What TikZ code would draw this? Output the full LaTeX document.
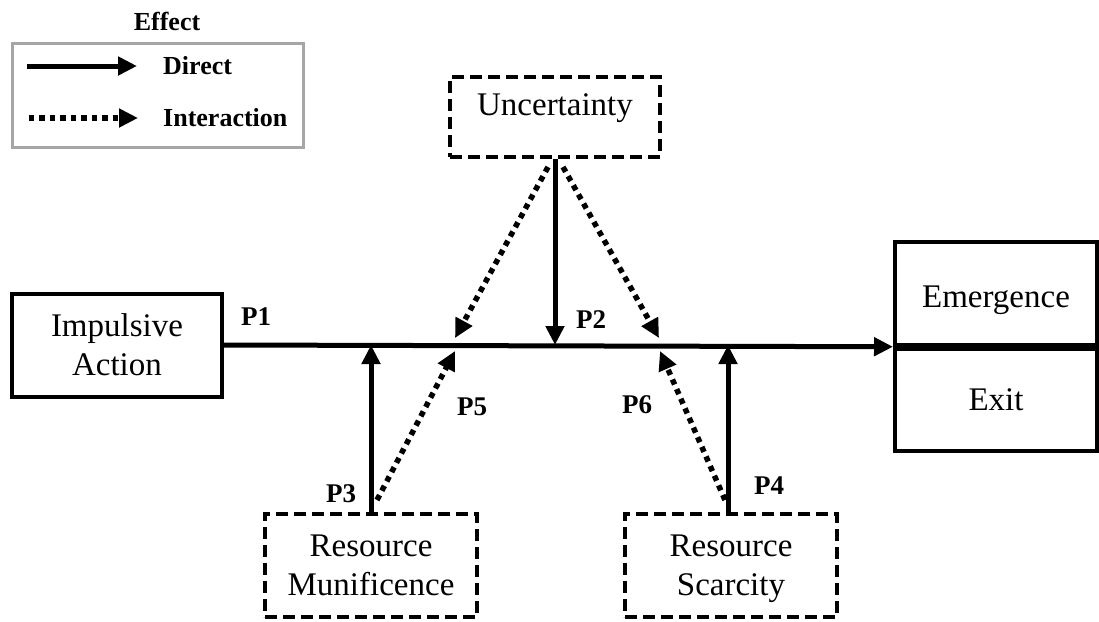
\documentclass[tikz,border=0pt]{standalone}
\usepackage{fontspec}
\setmainfont{Liberation Serif}
\usetikzlibrary{
  arrows.meta,
  positioning,
}
\tikzset{
  >={Triangle[length=19pt,width=18pt]},
  factor/.style={draw, line width=4pt, minimum width=210pt, minimum height=103pt,
    inner sep=0pt, align=center, font=\fontsize{33}{39}\selectfont},
  moderator/.style={factor, line width=4pt, dash pattern=on 12pt off 6pt},
  direct/.style={->, line width=5pt},
  interact/.style={->, line width=5.5pt, dash pattern=on 5.5pt off 5pt},
  plabel/.style={inner sep=0pt, font=\bfseries\fontsize{27}{30}\selectfont},
  legtext/.style={inner sep=0pt, anchor=west, font=\bfseries\fontsize{26}{30}\selectfont},
}

\begin{document}
\begin{tikzpicture}[x=1pt,y=-1pt]
    \useasboundingbox (0,0) rectangle (1099,621);

    % legend
    \node[legtext, anchor=center] (lgtitle) at (167,21) {Effect};
    \node[draw=black!35, line width=3pt, minimum width=291pt, minimum height=104pt, inner sep=0pt] (legend) at (157.5,95) {};
    \node[legtext] (lgdirect) at (163,66) {Direct};
    \node[legtext] (lginter) at (163,118) {Interaction};
    \draw[direct] ([xshift=16pt]legend.west |- lgdirect.west) -- ([xshift=-26pt]lgdirect.west);
    \draw[interact] ([xshift=18pt]legend.west |- lginter.west) -- ([xshift=-25pt]lginter.west);

    % factors
    \node[factor] (impulse) at (117,345) {Impulsive\\Action};
    \node[moderator, minimum height=80pt, text height=10pt, text depth=14pt] (unc) at (555,117) {Uncertainty};
    \node[moderator, minimum width=212pt] (muni) at (371,565.5) {Resource\\Munificence};
    \node[moderator, minimum width=212pt, text depth=0pt] (scar) at (731,565.5) {Resource\\Scarcity};

    % outcomes
    \node[factor, minimum width=202pt, minimum height=102.5pt, text height=34pt, text depth=7pt] (emerg) at (996,293.5) {Emergence};
    \node[factor, minimum width=202pt, minimum height=102.5pt, text height=21pt, text depth=0pt, anchor=north] (exitbox) at (emerg.south) {Exit};

    % direct effects
    \draw[direct] (impulse.east) -- (emerg.south west);
    \draw[direct] (unc.south) -- (unc.south |- impulse.east);
    \draw[direct] (muni.north) -- (muni.north |- impulse.east);
    \draw[direct] ([xshift=-3pt]scar.north) -- ([xshift=-3pt]scar.north |- impulse.east);

    % interaction effects
    \coordinate (m5) at (455,345);
    \coordinate (m6) at (659,345);
    \draw[interact] ([shift={(-7,8)}]unc.south) -- ([shift={(0,-7)}]m5);
    \draw[interact] ([shift={(8,8)}]unc.south) -- ([shift={(0,-7)}]m6);
    \draw[interact] ([shift={(6,-12)}]muni.north) -- ([shift={(0,6)}]m5);
    \draw[interact] ([shift={(-6,-12)}]scar.north) -- ([shift={(1,6)}]m6);

    % propositions
    \node[plabel] (p1) at (256,317) {P1};
    \node[plabel] (p2) at (591,320) {P2};
    \node[plabel] (p3) at (341,494) {P3};
    \node[plabel] (p4) at (769,486) {P4};
    \node[plabel] (p5) at (472,407) {P5};
    \node[plabel] (p6) at (637,405) {P6};
\end{tikzpicture}
\end{document}
